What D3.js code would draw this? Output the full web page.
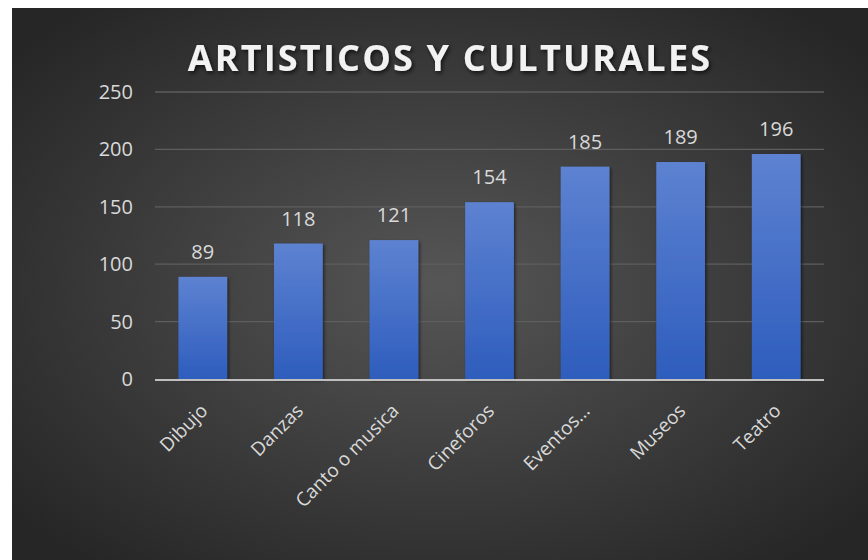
<!DOCTYPE html>
<html>
<head>
<meta charset="utf-8">
<script src="https://cdn.jsdelivr.net/npm/d3@7/dist/d3.min.js"></script>
<style>
  html, body { margin: 0; padding: 0; background: #ffffff; }
  svg { display: block; }
</style>
</head>
<body>
<svg id="chart" width="868" height="560"></svg>
<script>
// Chart data
const categories = ["Dibujo", "Danzas", "Canto o musica", "Cineforos", "Eventos…", "Museos", "Teatro"];
const values = [89, 118, 121, 154, 185, 189, 196];
const yTicks = [0, 50, 100, 150, 200, 250];
const title = "ARTISTICOS Y CULTURALES";

const W = 868, H = 560;
const svg = d3.select("#chart");
const defs = svg.append("defs");

// Dark radial background
const bg = defs.append("radialGradient").attr("id", "bgGrad")
  .attr("cx", "50%").attr("cy", "50%").attr("r", "65%");
bg.append("stop").attr("offset", "0%").attr("stop-color", "#565656");
bg.append("stop").attr("offset", "100%").attr("stop-color", "#262626");

// Bar fill
const barGrad = defs.append("linearGradient").attr("id", "barGrad")
  .attr("x1", 0).attr("y1", 0).attr("x2", 0).attr("y2", 1);
barGrad.append("stop").attr("offset", "0%").attr("stop-color", "#5d82d1");
barGrad.append("stop").attr("offset", "100%").attr("stop-color", "#2e5dbd");

const shadow = defs.append("filter").attr("id", "shadow")
  .attr("x", "-20%").attr("y", "-20%").attr("width", "150%").attr("height", "150%");
shadow.append("feDropShadow").attr("dx", 1.5).attr("dy", 1.5)
  .attr("stdDeviation", 1.5).attr("flood-color", "#000").attr("flood-opacity", 0.55);

const textShadow = defs.append("filter").attr("id", "tshadow")
  .attr("x", "-10%").attr("y", "-30%").attr("width", "120%").attr("height", "160%");
textShadow.append("feDropShadow").attr("dx", 1.5).attr("dy", 2)
  .attr("stdDeviation", 2).attr("flood-color", "#000").attr("flood-opacity", 0.7);

svg.append("rect").attr("x", 12).attr("y", 8)
  .attr("width", W - 12).attr("height", H - 8)
  .attr("fill", "url(#bgGrad)");

const plot = { left: 155, right: 824, top: 92, bottom: 379 };

const x = d3.scaleBand().domain(categories)
  .range([plot.left, plot.right]).paddingInner(0.49).paddingOuter(0.245);
const y = d3.scaleLinear().domain([0, 250]).range([plot.bottom, plot.top]);

const font = "'Open Sans', 'Noto Sans', sans-serif";

// Title
svg.append("text")
  .attr("x", 450).attr("y", 71)
  .attr("text-anchor", "middle")
  .attr("font-family", font).attr("font-weight", 700)
  .attr("font-size", 36).attr("letter-spacing", 2.2)
  .attr("fill", "#f2f2f2")
  .attr("filter", "url(#tshadow)")
  .text(title);

// Gridlines
svg.append("g").selectAll("line")
  .data(yTicks.filter(d => d > 0))
  .join("line")
  .attr("x1", plot.left).attr("x2", plot.right)
  .attr("y1", d => y(d)).attr("y2", d => y(d))
  .attr("stroke", "#5e5e5e").attr("stroke-width", 1.3);

// Y axis labels
const yAxis = d3.axisLeft(y).tickValues(yTicks).tickSize(0).tickPadding(22);
const yg = svg.append("g").attr("transform", `translate(${plot.left},0)`).call(yAxis);
yg.select(".domain").remove();
yg.selectAll("text")
  .attr("font-family", font).attr("font-size", 20)
  .attr("fill", "#d9d9d9");

// Bars
svg.append("g").selectAll("rect")
  .data(values)
  .join("rect")
  .attr("x", (d, i) => x(categories[i]))
  .attr("y", d => y(d))
  .attr("width", x.bandwidth())
  .attr("height", d => y(0) - y(d))
  .attr("fill", "url(#barGrad)")
  .attr("filter", "url(#shadow)");

// Data labels
svg.append("g").selectAll("text")
  .data(values)
  .join("text")
  .attr("x", (d, i) => x(categories[i]) + x.bandwidth() / 2)
  .attr("y", d => y(d) - 18)
  .attr("text-anchor", "middle")
  .attr("font-family", font).attr("font-size", 20)
  .attr("fill", "#d9d9d9")
  .text(d => d);

// Baseline
svg.append("line")
  .attr("x1", plot.left).attr("x2", plot.right)
  .attr("y1", y(0) + 1).attr("y2", y(0) + 1)
  .attr("stroke", "#bfbfbf").attr("stroke-width", 2.2);

// Category axis labels (rotated)
const xAxis = d3.axisBottom(x).tickSize(0).tickPadding(0);
const xg = svg.append("g").attr("transform", `translate(0,${plot.bottom})`).call(xAxis);
xg.select(".domain").remove();
xg.selectAll("text")
  .attr("font-family", font).attr("font-size", 19)
  .attr("fill", "#d9d9d9")
  .attr("text-anchor", "end")
  .attr("dy", 0)
  .attr("transform", "translate(6,33) rotate(-45)");
</script>
</body>
</html>
